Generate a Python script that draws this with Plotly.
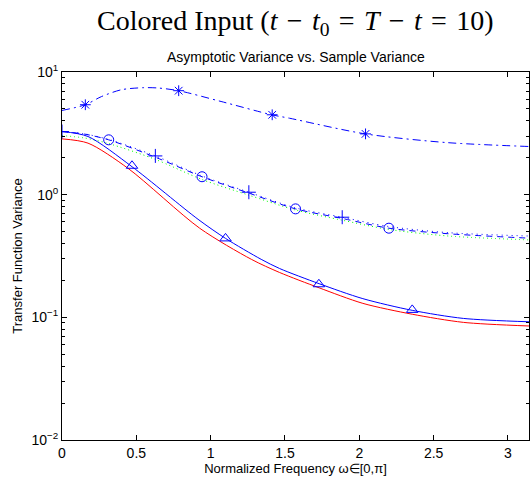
import plotly.graph_objects as go
import math

PI = math.pi

# Sample variance (dash-dot, stars)
x_star_line = [0, 0.157, 0.265, 0.40, 0.55, 0.65, 0.785, 1.07, 1.41, 1.53, 2.04, 2.585, PI]
y_star_line = [4.86, 5.41, 6.3, 7.17, 7.45, 7.4, 7.04, 5.75, 4.48, 4.2, 3.13, 2.66, 2.47]
x_star_mk = [0.157, 0.785, 1.414, 2.042]
y_star_mk = [5.41, 7.04, 4.48, 3.13]

# dashed with circles
x_circ_line = [0, 0.15, 0.314, 0.628, 0.942, 1.257, 1.571, 1.885, 2.199, 2.6, PI]
y_circ_line = [3.27, 3.12, 2.80, 2.02, 1.40, 1.03, 0.766, 0.64, 0.533, 0.48, 0.442]
x_circ_mk = [0.314, 0.942, 1.571, 2.199]
y_circ_mk = [2.80, 1.40, 0.766, 0.533]

# dotted with plus
x_plus_line = [0, 0.15, 0.314, 0.628, 0.942, 1.257, 1.571, 1.885, 2.199, 2.6, PI]
y_plus_line = [3.27, 3.13, 2.82, 2.07, 1.42, 1.047, 0.78, 0.655, 0.55, 0.49, 0.46]
x_plus_mk = [0, 0.628, 1.257, 1.885]
y_plus_mk = [3.27, 2.07, 1.047, 0.655]

# green dotted
x_green = [0, 0.15, 0.309, 0.623, 0.941, 1.258, 1.57, 1.883, 2.2, 2.6, PI]
y_green = [3.03, 2.9, 2.62, 1.95, 1.33, 0.99, 0.75, 0.62, 0.52, 0.46, 0.428]

# blue solid with triangles
x_tri_line = [0, 0.175, 0.471, 0.915, 1.10, 1.34, 1.464, 1.73, 2.024, 2.356, 2.70, PI]
y_tri_line = [3.27, 2.98, 1.69, 0.63, 0.44, 0.297, 0.25, 0.188, 0.142, 0.114, 0.098, 0.092]
x_tri_mk = [0.471, 1.100, 1.728, 2.356]
y_tri_mk = [1.72, 0.44, 0.186, 0.115]

# red solid
x_red = [0, 0.175, 0.444, 0.926, 1.274, 1.464, 1.73, 2.024, 2.356, 2.70, PI]
y_red = [2.85, 2.63, 1.64, 0.533, 0.297, 0.232, 0.174, 0.130, 0.106, 0.091, 0.085]

x_ticks = [0, 0.5, 1, 1.5, 2, 2.5, 3]
x_tick_labels = ["0", "0.5", "1", "1.5", "2", "2.5", "3"]
y_ticks = [0.01, 0.1, 1, 10]
y_tick_labels = ["10<sup>−2</sup>", "10<sup>−1</sup>", "10<sup>0</sup>", "10<sup>1</sup>"]

BLUE = "#0000ff"
RED = "#ff0000"
GREEN = "#00ff00"

fig = go.Figure()

def line(x, y, color, dash, width=1):
    fig.add_trace(go.Scatter(x=x, y=y, mode="lines", line=dict(color=color, dash=dash, width=width, shape="spline", smoothing=0.8), showlegend=False, hoverinfo="skip"))

def marks(x, y, symbol, size):
    fig.add_trace(go.Scatter(x=x, y=y, mode="markers", marker=dict(symbol=symbol, size=size, color=BLUE, line=dict(color=BLUE, width=1)), showlegend=False, hoverinfo="skip"))

line(x_green, y_green, GREEN, "1px,3px")
line(x_red, y_red, RED, "solid")
line(x_tri_line, y_tri_line, BLUE, "solid")
line(x_circ_line, y_circ_line, BLUE, "6px,5px")
line(x_plus_line, y_plus_line, BLUE, "1px,4px")
line(x_star_line, y_star_line, BLUE, "8px,4px,2px,4px")

marks(x_star_mk, y_star_mk, "asterisk-open", 9)
marks(x_circ_mk, y_circ_mk, "circle-open", 10)
marks(x_plus_mk, y_plus_mk, "cross-thin-open", 10)
marks(x_tri_mk, y_tri_mk, "triangle-up-open", 10)

S = "\u2004"
title_text = ("Colored Input (<i>t</i>" + S + "−" + S + "<i>t</i><sub>0</sub>" + S + "=" + S +
              "<i>T</i>" + S + "−" + S + "<i>t</i>" + S + "=" + S + "10)")

fig.update_layout(
    width=530, height=481,
    margin=dict(l=62, r=1, t=72, b=41, autoexpand=False),
    paper_bgcolor="white", plot_bgcolor="white",
    font=dict(family="Liberation Sans, Arial, sans-serif", color="black", size=14),
    annotations=[
        dict(text=title_text,
             xref="paper", yref="paper", x=0.5, y=1, yshift=50, xanchor="center", yanchor="middle",
             showarrow=False, font=dict(family="Liberation Serif, Times New Roman, serif", size=28, color="black")),
        dict(text="Asymptotic Variance vs. Sample Variance",
             xref="paper", yref="paper", x=0.5, y=1, yshift=15, xanchor="center", yanchor="middle",
             showarrow=False, font=dict(size=14, color="black")),
    ],
)

fig.update_xaxes(
    range=[0, PI], tickvals=x_ticks, ticktext=x_tick_labels,
    ticks="inside", ticklen=5, tickcolor="black",
    showline=True, linecolor="black", linewidth=1, mirror="ticks",
    showgrid=False, zeroline=False, automargin=False,
    title=dict(text="Normalized Frequency ω∈[0,π]", font=dict(size=13), standoff=0),
    tickfont=dict(size=14),
)
fig.update_yaxes(
    type="log", range=[-2, 1], tickvals=y_ticks, ticktext=y_tick_labels,
    ticks="inside", ticklen=5, tickcolor="black",
    showline=True, linecolor="black", linewidth=1, mirror="ticks",
    showgrid=False, zeroline=False, automargin=False,
    minor=dict(ticks="inside", ticklen=3, tickcolor="black", showgrid=False,
               tickvals=[m * 10 ** e for e in (-2, -1, 0) for m in range(2, 10)]),
    title=dict(text="Transfer Function Variance", font=dict(size=13), standoff=5),
    tickfont=dict(size=14),
)

fig.write_html("out.html", config={"displayModeBar": False},
               post_script="document.body.style.margin='0';document.body.style.overflow='hidden';")
